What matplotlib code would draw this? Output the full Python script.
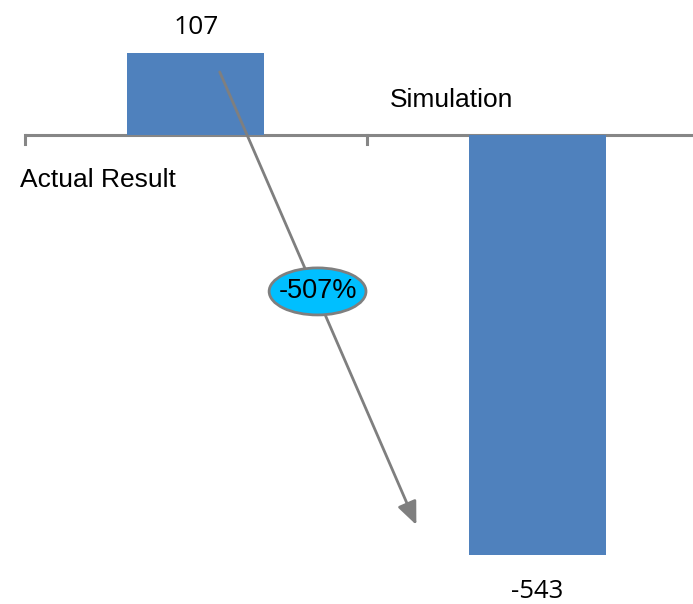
import matplotlib.pyplot as plt
from matplotlib.patches import Ellipse

# chart data
categories = ['Actual Result', 'Simulation']
values = [107, -543]
change_label = '-507%'

bar_color = '#4F81BD'
axis_color = '#868686'

fig = plt.figure(figsize=(6.93, 6.04), dpi=100)
# axes runs past the right edge of the figure, like the cropped original
ax = fig.add_axes([25 / 693, 0, 683 / 693, 1])
ax.set_xlim(-0.5, 1.5)
ax.set_ylim(-606.9, 175.5)

x = list(range(len(categories)))
ax.bar(x, values, width=0.4, color=bar_color, zorder=2)

# horizontal category axis at zero
ax.axhline(0, color=axis_color, lw=2.2, zorder=1)
for t in [-0.5, 0.5, 1.5]:
    ax.plot([t, t], [0, -10.5], color=axis_color, lw=2.2, clip_on=False)

for s in ax.spines.values():
    s.set_visible(False)
ax.set_xticks([])
ax.set_yticks([])

# value labels
ax.annotate(str(values[0]), (x[0], values[0]), xytext=(0, 13.5), textcoords='offset points',
            ha='center', va='baseline', fontsize=19, family='Open Sans')
ax.annotate(str(values[1]), (x[1], values[1]), xytext=(0, -17.5), textcoords='offset points',
            ha='center', va='top', fontsize=18.5, family='Open Sans')

# category labels
ax.text(-0.515, -58, categories[0], ha='left', va='center', fontsize=19, family='Liberation Sans')
ax.text(0.567, 46, categories[1], ha='left', va='center', fontsize=19, family='Liberation Sans')

# arrow from actual to simulation
ax.annotate('', xy=(0.646, -504.5), xytext=(0.0702, 82.3),
            arrowprops=dict(arrowstyle='-|>,head_length=1.4,head_width=0.6', color='#7F7F7F',
                            lw=2, shrinkA=0, shrinkB=0), zorder=3)

# percentage change bubble
ax.add_patch(Ellipse((0.3567, -202), 0.2836, 60.9, fc='#00BFFF', ec='#7F7F7F', lw=2, zorder=4))
ax.text(0.3567, -202, change_label, ha='center', va='center', fontsize=19.5,
        family='Liberation Sans', zorder=5)

fig.savefig('out.png', dpi=100)
